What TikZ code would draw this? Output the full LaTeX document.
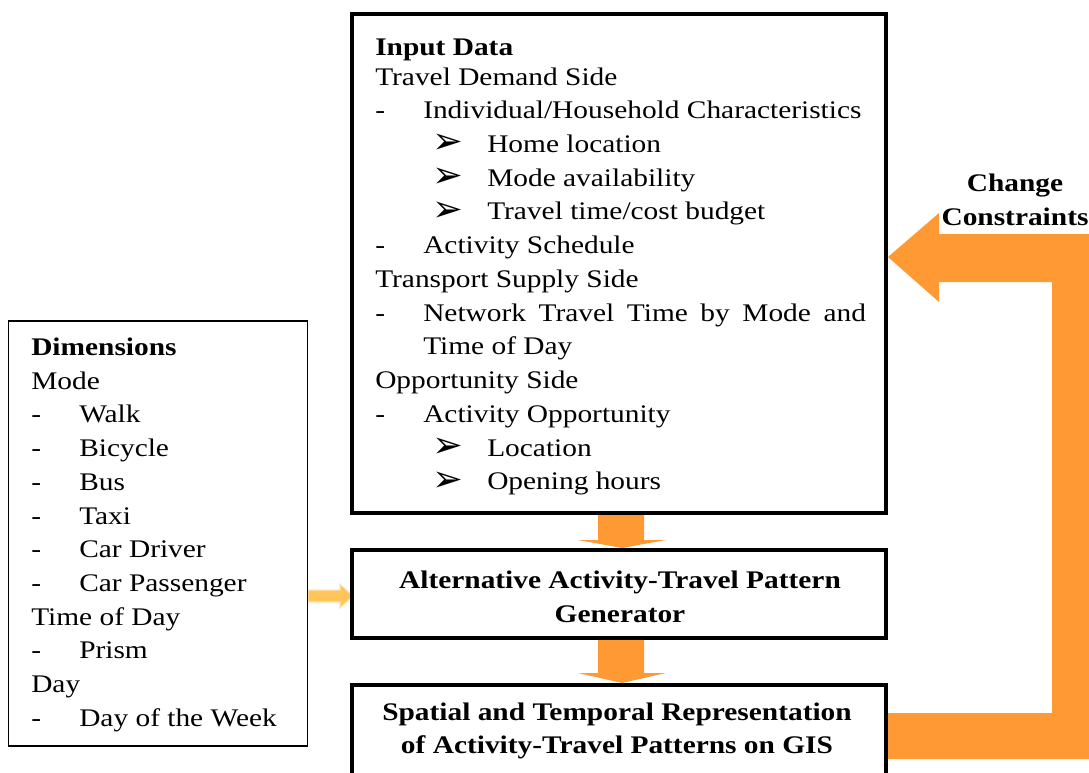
\documentclass[tikz,border=0pt]{standalone}
\usepackage{fontspec}
\setmainfont{Liberation Serif}[FakeStretch=1.16]
\newfontfamily\dingfont{DejaVu Sans}
\usetikzlibrary{calc}
\definecolor{flowor}{HTML}{FF9933}
\definecolor{flowyel}{HTML}{FFC55A}

% one line of a list: a dash, or an arrow bullet set further in
\newcommand{\dashln}[1]{\makebox[36pt][l]{-}#1}
\newcommand{\arrln}[1]{\hspace*{43pt}\makebox[41pt][l]{\raisebox{-1pt}{\scalebox{1.45}{\dingfont\char"27A2}}}#1}

\begin{document}
\begin{tikzpicture}[x=0.75pt, y=-0.75pt, line join=miter,
    thickbox/.style={rectangle, draw=black, line width=3pt, inner sep=0pt},
    thinbox/.style={rectangle, draw=black, line width=1pt, inner sep=0pt},
    listtxt/.style={anchor=north west, inner sep=0pt, align=left,
                    font=\fontsize{19}{25.3}\selectfont},
    headtxt/.style={inner sep=0pt, align=center,
                    font=\fontsize{19}{25.3}\selectfont\bfseries}]
  \useasboundingbox (0,0) rectangle (1089,772);

  % ---- block arrows, drawn first so the box borders lie on top -------------
  \fill[flowor] (598,513) -- (598,540) -- (578,540) -- (622,548)
                -- (666,540) -- (644,540) -- (644,513) -- cycle;
  \fill[flowor] (598,639) -- (598,673) -- (578,673) -- (622,683)
                -- (666,673) -- (644,673) -- (644,639) -- cycle;
  % feedback loop from the GIS box back to the input data
  \coordinate (fbtip) at (888,257);
  \fill[flowor] (fbtip) -- (939,213) -- (939,234) -- (1095,234) -- (1095,759)
                -- (886,759) -- (886,713) -- (1052,713) -- (1052,282)
                -- (939,282) -- (939,302) -- cycle;
  % dimensions feed the generator
  \fill[flowyel, draw=flowyel!45, line width=0.8pt]
        (308,590) -- (340,590) -- (340,584) -- (353,596) -- (340,608)
        -- (340,602) -- (308,602) -- cycle;

  % ---- boxes ---------------------------------------------------------------
  \node[thickbox, minimum width=400.5pt, minimum height=374.25pt] (input) at (619,263.5) {};
  \node[thickbox, minimum width=400.5pt, minimum height=66pt] (gen) at (619,594) {};
  \node[thickbox, minimum width=400.5pt, minimum height=86.25pt] (gis) at (619,742.5) {};
  \node[thinbox, minimum width=224.25pt, minimum height=318.75pt] (dims) at (158,533.5) {};

  % ---- texts ---------------------------------------------------------------
  \node[listtxt] (inputtxt) at (375,38.5) {\textbf{Input Data}\\[-0.12\baselineskip]
    Travel Demand Side\\
    \dashln{Individual/Household Characteristics}\\
    \arrln{Home location}\\
    \arrln{Mode availability}\\
    \arrln{Travel time/cost budget}\\
    \dashln{Activity Schedule}\\
    Transport Supply Side\\
    \dashln{\makebox[332pt][s]{Network Travel Time by Mode and}}\\
    \hspace*{36pt}Time of Day\\
    Opportunity Side\\
    \dashln{Activity Opportunity}\\
    \arrln{Location}\\
    \arrln{Opening hours}};

  \node[listtxt] (dimstxt) at (31,337.5) {\textbf{Dimensions}\\
    Mode\\
    \dashln{Walk}\\
    \dashln{Bicycle}\\
    \dashln{Bus}\\
    \dashln{Taxi}\\
    \dashln{Car Driver}\\
    \dashln{Car Passenger}\\
    Time of Day\\
    \dashln{Prism}\\
    Day\\
    \dashln{Day of the Week}};

  \node[headtxt] (gentxt) at (620,596.5) {Alternative Activity-Travel Pattern\\Generator};
  \node[headtxt] (gistxt) at (617,731) {Spatial and Temporal Representation\\of Activity-Travel Patterns on GIS};
  \node[headtxt] (fbtxt) at (1015,200) {Change\\Constraints};
\end{tikzpicture}
\end{document}
